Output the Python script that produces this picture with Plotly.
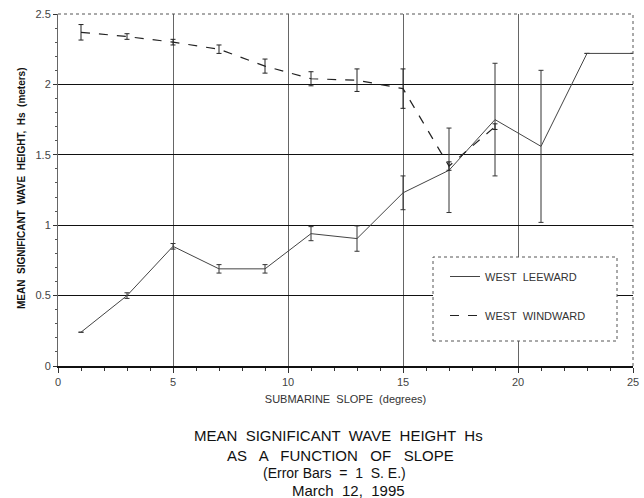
import plotly.graph_objects as go

# ---- data ----
slope = [1, 3, 5, 7, 9, 11, 13, 15, 17, 19, 21, 23, 25]
leeward = [0.24, 0.50, 0.85, 0.69, 0.69, 0.94, 0.905, 1.23, 1.39, 1.75, 1.56, 2.22, 2.22]
leeward_se = [0.0, 0.02, 0.02, 0.03, 0.03, 0.05, 0.09, 0.12, 0.30, 0.40, 0.54, 0.0, 0.0]

slope_w = [1, 3, 5, 7, 9, 11, 13, 15, 17, 19]
windward = [2.37, 2.34, 2.30, 2.25, 2.13, 2.04, 2.03, 1.97, 1.42, 1.70]
windward_se = [0.055, 0.02, 0.02, 0.03, 0.05, 0.05, 0.08, 0.14, 0.03, 0.02]

x_ticks = [0, 5, 10, 15, 20, 25]
y_ticks = [0, 0.5, 1, 1.5, 2, 2.5]
y_tick_labels = ["0", "0.5", "1", "1.5", "2", "2.5"]

title_lines = [
    "MEAN  SIGNIFICANT  WAVE  HEIGHT  Hs",
    "AS   A   FUNCTION   OF   SLOPE",
    "(Error Bars  =  1  S. E.)",
    "March  12,  1995",
]

FONT = "Arial, Liberation Sans, sans-serif"

L, R, T, B = 58, 11, 14, 132
W, HT = 644, 498
PW = W - L - R           # plot width (575)
H = HT - T - B           # plot height (352)
X0, Y0 = 58, 366         # px of data origin


def px_x(sx):
    return (sx - X0) / PW


def px_y(sy):
    return (Y0 - sy) / H


fig = go.Figure()
fig.add_trace(go.Scatter(
    x=slope, y=leeward, mode="lines", name="WEST  LEEWARD",
    line=dict(color="#444444", width=1),
    error_y=dict(type="data", array=leeward_se, visible=True,
                 color="#333333", thickness=1, width=2.5),
    legendgroup="a",
))
fig.add_trace(go.Scatter(
    x=slope_w, y=windward, mode="lines", name="WEST  WINDWARD",
    line=dict(color="#222222", width=1.2, dash="dash"),
    error_y=dict(type="data", array=windward_se, visible=True,
                 color="#222222", thickness=1, width=2.5),
    legendgroup="b",
))

annotations = []
centers = [(338, 435, 15), (340, 455, 15), (334, 473, 14), (348, 490, 15)]
for txt, (cx, cy, fs) in zip(title_lines, centers):
    annotations.append(dict(
        text=txt, xref="paper", yref="paper", x=px_x(cx), y=px_y(cy),
        xanchor="center", yanchor="middle", showarrow=False,
        font=dict(family=FONT, size=fs, color="#111111"),
    ))
annotations.append(dict(
    text="<b>MEAN  SIGNIFICANT  WAVE  HEIGHT,  Hs  (meters)</b>",
    xref="paper", yref="paper", x=px_x(22), y=px_y(188),
    xanchor="center", yanchor="middle", textangle=-90, showarrow=False,
    font=dict(family=FONT, size=10, color="#111111"),
))

fig.update_layout(
    width=W, height=HT,
    margin=dict(l=L, r=R, t=T, b=B, autoexpand=False),
    paper_bgcolor="white", plot_bgcolor="white",
    font=dict(family=FONT, size=11, color="#333333"),
    showlegend=True,
    legend=dict(
        x=px_x(445), y=px_y(262), xanchor="left", yanchor="top",
        borderwidth=0, bgcolor="rgba(0,0,0,0)",
        font=dict(family=FONT, size=11, color="#333333"),
        tracegroupgap=20, entrywidth=150, itemwidth=30,
        traceorder="grouped",
    ),
    annotations=annotations,
)

fig.update_xaxes(
    range=[0, 25], tickvals=x_ticks, ticktext=[str(v) for v in x_ticks],
    showgrid=True, gridcolor="#666666", gridwidth=1,
    showline=True, linecolor="#111111", linewidth=1.5, mirror=False,
    ticks="outside", ticklen=5, tickcolor="#333333",
    minor=dict(dtick=1, ticks="outside", ticklen=3, tickcolor="#333333", showgrid=False),
    zeroline=False, ticklabeloverflow="allow",
    title=dict(text="SUBMARINE  SLOPE  (degrees)", standoff=8,
               font=dict(family=FONT, size=11, color="#333333")),
    tickfont=dict(family=FONT, size=11, color="#444444"),
)
fig.update_yaxes(
    range=[0, 2.5], tickvals=y_ticks, ticktext=y_tick_labels,
    showgrid=True, gridcolor="#111111", gridwidth=1,
    showline=True, linecolor="#666666", linewidth=1, mirror=False,
    ticks="outside", ticklen=4, tickcolor="#333333",
    minor=dict(dtick=0.1, ticks="outside", ticklen=2, tickcolor="#555555", showgrid=False),
    zeroline=False, ticklabeloverflow="allow",
    tickfont=dict(family=FONT, size=11, color="#444444"),
)
# dotted frame on top and right
fig.add_shape(type="line", xref="paper", yref="paper", x0=0, x1=1, y0=1, y1=1,
              line=dict(color="#555555", width=1, dash="dot"))
fig.add_shape(type="line", xref="paper", yref="paper", x0=1, x1=1, y0=0, y1=1,
              line=dict(color="#555555", width=1, dash="dot"))
# legend box
fig.add_shape(type="rect", xref="paper", yref="paper",
              x0=px_x(433), x1=px_x(617), y0=px_y(341), y1=px_y(257),
              line=dict(color="#555555", width=1, dash="dot"),
              fillcolor="white", layer="above")

fig.write_html(
    "out.html",
    config={"displayModeBar": False},
    post_script="document.body.style.margin='0';document.body.style.overflow='hidden';",
)
